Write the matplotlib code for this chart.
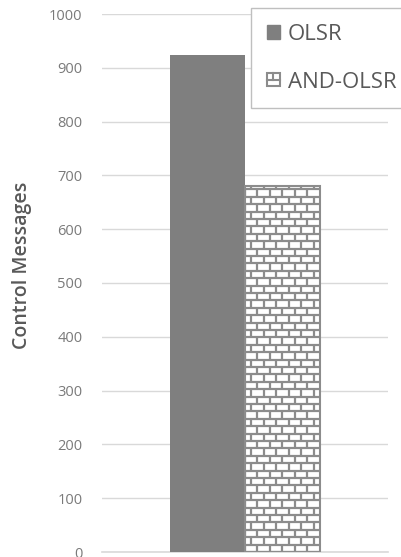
import numpy as np
import matplotlib
matplotlib.use('Agg')
import matplotlib.pyplot as plt
from matplotlib.collections import LineCollection
from matplotlib.patches import Rectangle
from matplotlib.legend_handler import HandlerPatch
from matplotlib.lines import Line2D

# ── Data ──────────────────────────────────────────────────────────────────────
series = ['OLSR', 'AND-OLSR']
values = [923, 680]
y_ticks = [0, 100, 200, 300, 400, 500, 600, 700, 800, 900, 1000]
y_label = 'Control Messages'

plt.rcParams['font.family'] = ['Open Sans', 'DejaVu Sans']

GRID = '#d9d9d9'
SOLID = '#7f7f7f'
BRICK = '#8c8c8c'
TXT = '#7a7a7a'

fig = plt.figure(figsize=(4.02, 5.57), dpi=100)
ax = fig.add_axes([102/402, 1 - 552/557, 286/402, 538/557])

w = 75 / 286
xs = [-w/2, w/2]
bars = ax.bar(xs, values, width=w, color=[SOLID, 'white'],
              edgecolor=[SOLID, BRICK], linewidth=[0, 1.5], zorder=3)

# brick pattern inside the second bar
b = bars[1]
x0, x1 = b.get_x(), b.get_x() + b.get_width()
row_h = 7.4 * 1000 / 538
brick_w = 12.5 / 286
segs = []
nrows = int(values[1] / row_h) + 1
for r in range(nrows + 1):
    y = r * row_h
    segs.append([(x0, y), (x1, y)])
    off = 0 if r % 2 == 0 else brick_w / 2
    xv = x0 + off
    while xv < x1:
        segs.append([(xv, y), (xv, y + row_h)])
        xv += brick_w
lc = LineCollection(segs, colors=BRICK, linewidths=1.6, zorder=4)
ax.add_collection(lc)
lc.set_clip_path(b)

ax.set_xlim(-0.5, 0.5)
ax.set_ylim(0, 1000)
ax.set_yticks(y_ticks)
ax.set_xticks([])
ax.grid(axis='y', color=GRID, linewidth=1, zorder=0)
for s in ['top', 'right', 'left']:
    ax.spines[s].set_visible(False)
ax.spines['bottom'].set_color(GRID)
ax.spines['bottom'].set_linewidth(1.2)
ax.tick_params(axis='y', length=0, pad=14, labelsize=10.5, labelcolor=TXT)
ax.set_ylabel(y_label, fontsize=14, color='#595959', fontweight='semibold')
ax.yaxis.set_label_coords(-0.245, 0.533)


class BrickHandler(HandlerPatch):
    def create_artists(self, legend, orig_handle, xdescent, ydescent,
                       width, height, fontsize, trans):
        s = min(width, height)
        x0 = -xdescent + (width - s) / 2
        y0 = -ydescent + (height - s) / 2
        rect = Rectangle((x0, y0), s, s, facecolor='white',
                         edgecolor=BRICK, linewidth=1.5, transform=trans)
        h = Line2D([x0, x0 + s], [y0 + s/2, y0 + s/2], color=BRICK,
                   linewidth=1.5, transform=trans)
        v = Line2D([x0 + s/2, x0 + s/2], [y0 + s/2, y0 + s], color=BRICK,
                   linewidth=1.5, transform=trans)
        return [rect, h, v]


solid = Rectangle((0, 0), 1, 1, facecolor=SOLID, edgecolor=SOLID)
brick = Rectangle((0, 0), 1, 1, facecolor='white', edgecolor=BRICK)
leg = fig.legend([solid, brick], series, loc='upper left',
                 bbox_to_anchor=(251/402, 1 - 8/557), borderaxespad=0,
                 fontsize=16, handlelength=0.6, handleheight=0.6,
                 handletextpad=0.35, labelspacing=1.22, borderpad=0.7,
                 fancybox=False, framealpha=1, labelcolor='#595959',
                 handler_map={brick: BrickHandler()})
leg.get_frame().set_edgecolor('#bfbfbf')
leg.get_frame().set_linewidth(1.0)

fig.savefig('out.png', dpi=100)
